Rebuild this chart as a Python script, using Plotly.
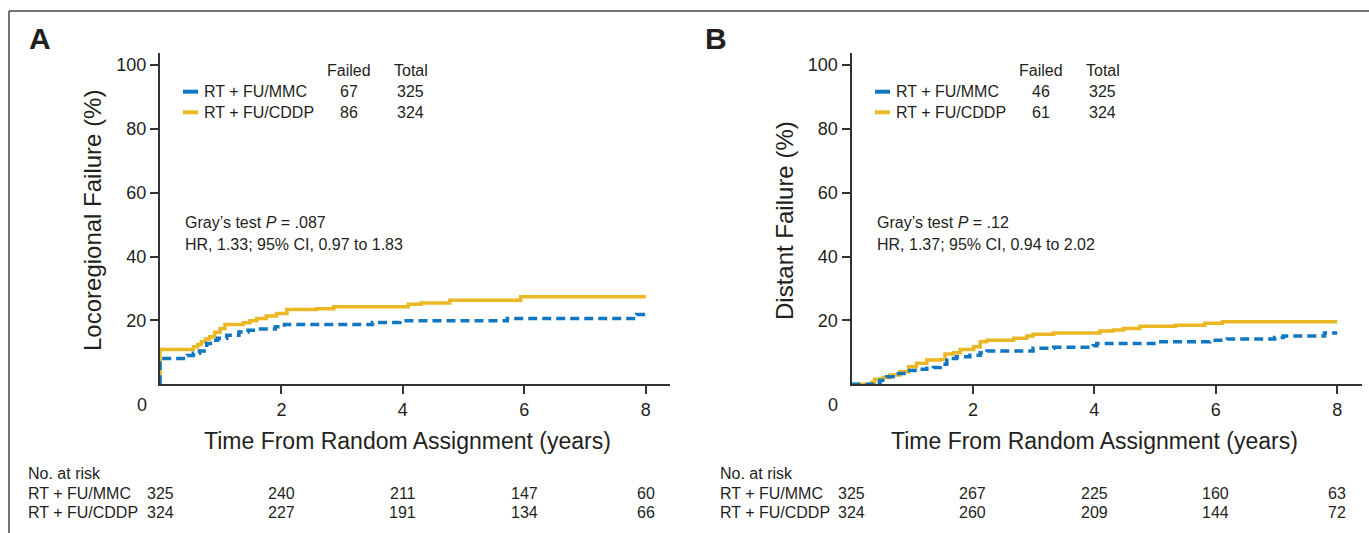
import plotly.graph_objects as go

W, H = 1369, 533

# ---------------- data ----------------
# Panel A: Locoregional failure (cumulative incidence, %)
a_mmc_t = [0, 0, 0.45, 0.55, 0.65, 0.77, 0.88, 0.95, 1.10, 1.30, 1.45, 1.60, 1.90, 2.05, 3.50, 3.95, 5.72, 7.85, 8.0]
a_mmc_y = [0, 8.1, 9.0, 9.7, 10.4, 12.8, 13.8, 14.4, 15.4, 16.4, 16.9, 17.3, 18.0, 18.7, 19.4, 19.9, 20.6, 21.9, 21.9]
a_cddp_t = [0, 0, 0.55, 0.62, 0.68, 0.75, 0.82, 0.90, 0.99, 1.07, 1.37, 1.48, 1.59, 1.75, 1.92, 2.09, 2.58, 2.86,
            4.09, 4.30, 4.77, 5.94, 8.0]
a_cddp_y = [0, 10.9, 11.8, 12.5, 13.3, 14.2, 14.9, 16.3, 17.5, 18.7, 19.3, 19.9, 20.6, 21.4, 22.2, 23.4, 23.7, 24.3,
            25.1, 25.5, 26.3, 27.4, 27.4]

# Panel B: Distant failure (cumulative incidence, %)
b_mmc_t = [0, 0.36, 0.47, 0.58, 0.74, 0.91, 1.13, 1.24, 1.35, 1.46, 1.57, 1.73, 1.95, 2.12, 2.23, 2.99, 3.33,
           3.98, 4.04, 5.04, 5.90, 6.19, 6.97, 7.11, 7.79, 8.0]
b_mmc_y = [0, 0.6, 1.3, 2.4, 3.4, 4.3, 4.7, 5.0, 5.3, 6.3, 8.1, 8.6, 9.1, 9.9, 10.4, 11.3, 11.6,
           12.1, 12.8, 13.3, 13.8, 14.2, 14.7, 15.1, 16.1, 16.1]
b_cddp_t = [0, 0.33, 0.38, 0.52, 0.63, 0.80, 0.94, 1.07, 1.24, 1.46, 1.54, 1.68, 1.79, 2.01, 2.12, 2.23, 2.67,
            2.89, 2.99, 3.33, 4.09, 4.31, 4.48, 4.75, 5.33, 5.82, 6.11, 8.0]
b_cddp_y = [0, 0.6, 1.6, 2.1, 2.9, 3.9, 5.5, 6.6, 7.6, 7.8, 9.5, 9.9, 10.9, 11.8, 13.3, 13.8, 14.4,
            15.1, 15.7, 16.1, 16.7, 17.0, 17.5, 18.2, 18.5, 19.1, 19.6, 19.6]

arm_labels = ["RT + FU/MMC", "RT + FU/CDDP"]
a_failed = [67, 86]
a_total = [325, 324]
b_failed = [46, 61]
b_total = [325, 324]

risk_times = [0, 2, 4, 6, 8]
a_risk_mmc = [325, 240, 211, 147, 60]
a_risk_cddp = [324, 227, 191, 134, 66]
b_risk_mmc = [325, 267, 225, 160, 63]
b_risk_cddp = [324, 260, 209, 144, 72]

x_ticks = [2, 4, 6, 8]
y_ticks = [20, 40, 60, 80, 100]

a_stats = ["Gray’s test <i>P</i> = .087", "HR, 1.33; 95% CI, 0.97 to 1.83"]
b_stats = ["Gray’s test <i>P</i> = .12", "HR, 1.37; 95% CI, 0.94 to 2.02"]

# ---------------- styles ----------------
BLUE = "#1177c0"
YELLOW = "#e9b824"
TXT = "#231f20"
AX = "#333333"
FONT = "Liberation Sans, Arial, Helvetica, sans-serif"


def px(x):
    return x / W


def py(y):
    return 1 - y / H


fig = go.Figure()

for xa, ya, t1, y1, t2, y2, names in [
    ("x", "y", a_mmc_t, a_mmc_y, a_cddp_t, a_cddp_y, arm_labels),
    ("x2", "y2", b_mmc_t, b_mmc_y, b_cddp_t, b_cddp_y, arm_labels),
]:
    fig.add_trace(go.Scatter(x=t2, y=y2, mode="lines", line=dict(color=YELLOW, width=3.5, shape="hv"),
                             name=names[1], xaxis=xa, yaxis=ya, showlegend=False))
    fig.add_trace(go.Scatter(x=t1, y=y1, mode="lines",
                             line=dict(color=BLUE, width=3.5, shape="hv", dash="9px,5px"),
                             name=names[0], xaxis=xa, yaxis=ya, showlegend=False))

y_dom = [py(384.3), py(53)]
axis_common = dict(showgrid=False, zeroline=False, showline=True, linecolor=AX, linewidth=2,
                   ticks="outside", ticklen=8, tickwidth=1.5, tickcolor=AX,
                   tickfont=dict(family=FONT, size=18, color=TXT))

fig.update_layout(
    width=W, height=H,
    margin=dict(l=0, r=0, t=0, b=0),
    paper_bgcolor="white", plot_bgcolor="white",
    font=dict(family=FONT, color=TXT),
    xaxis=dict(domain=[px(160), px(670)], range=[0, 8.4], tickvals=x_ticks, anchor="y", **axis_common),
    yaxis=dict(domain=y_dom, range=[0, 103.8], tickvals=y_ticks, anchor="x", **axis_common),
    xaxis2=dict(domain=[px(851.5), px(1361.5)], range=[0, 8.4], tickvals=x_ticks, anchor="y2", **axis_common),
    yaxis2=dict(domain=y_dom, range=[0, 103.8], tickvals=y_ticks, anchor="x2", **axis_common),
)

ann = []
shapes = []


def text(x, y, s, size=16, xanchor="left", **kw):
    ann.append(dict(x=px(x), y=py(y), xref="paper", yref="paper", text=s, showarrow=False,
                    xanchor=xanchor, yanchor="middle", font=dict(family=FONT, size=size, color=TXT), **kw))


# frame
shapes.append(dict(type="line", xref="paper", yref="paper", x0=px(9), x1=1, y0=py(11), y1=py(11),
                   line=dict(color="#444", width=1.5)))
shapes.append(dict(type="line", xref="paper", yref="paper", x0=px(9), x1=px(9), y0=py(11), y1=0,
                   line=dict(color="#444", width=1.5)))

panels = [
    dict(letter="A", lx=27, ax0=160, ytitle="Locoregional Failure (%)", ytx=93, xtitle_x=407,
         failed=a_failed, total=a_total, stats=a_stats, xref="x",
         risk=[a_risk_mmc, a_risk_cddp], tab_x=26, leg_x=183, fx=348.5, tx=410.7),
    dict(letter="B", lx=703, ax0=851.5, ytitle="Distant Failure (%)", ytx=785, xtitle_x=1094,
         failed=b_failed, total=b_total, stats=b_stats, xref="x2",
         risk=[b_risk_mmc, b_risk_cddp], tab_x=718, leg_x=875, fx=1040.8, tx=1102.7),
]

for p in panels:
    # panel letter
    ann.append(dict(x=px(p["lx"]), y=py(39), xref="paper", yref="paper", text="<b>%s</b>" % p["letter"],
                    showarrow=False, xanchor="left", yanchor="middle",
                    font=dict(family=FONT, size=30, color=TXT)))
    # origin label
    text(p["ax0"] - 18.5, 405, "0", size=18, xanchor="center")
    # axis titles
    text(p["ytx"], 221, p["ytitle"], size=24, xanchor="center", textangle=-90)
    text(p["xtitle_x"], 441, "Time From Random Assignment (years)", size=23, xanchor="center")
    # legend
    text(p["fx"], 70.7, "Failed", xanchor="center")
    text(p["tx"], 70.7, "Total", xanchor="center")
    for i, (col, yy) in enumerate([(BLUE, 91.7), (YELLOW, 112.3)]):
        shapes.append(dict(type="line", xref="paper", yref="paper", x0=px(p["leg_x"]), x1=px(p["leg_x"] + 15),
                           y0=py(yy), y1=py(yy), line=dict(color=col, width=4)))
        text(p["leg_x"] + 19, yy, arm_labels[i])
        text(p["fx"], yy, str(p["failed"][i]), xanchor="center")
        text(p["tx"], yy, str(p["total"][i]), xanchor="center")
    # stats
    text(p["leg_x"], 222.7, p["stats"][0], size=16)
    text(p["leg_x"], 245, p["stats"][1], size=16)
    # risk table
    text(p["tab_x"], 473.3, "No. at risk", size=16)
    for i, yy in enumerate([493.3, 512.7]):
        text(p["tab_x"], yy, arm_labels[i], size=16)
        for t, n in zip(risk_times, p["risk"][i]):
            ann.append(dict(x=t, y=py(yy), xref=p["xref"], yref="paper", text=str(n), showarrow=False,
                            xanchor="center", yanchor="middle", font=dict(family=FONT, size=16, color=TXT)))

fig.update_layout(annotations=ann, shapes=shapes)
fig.write_html("out.html", config={"displayModeBar": False},
               post_script="document.body.style.margin='0';document.body.style.overflow='hidden';")
